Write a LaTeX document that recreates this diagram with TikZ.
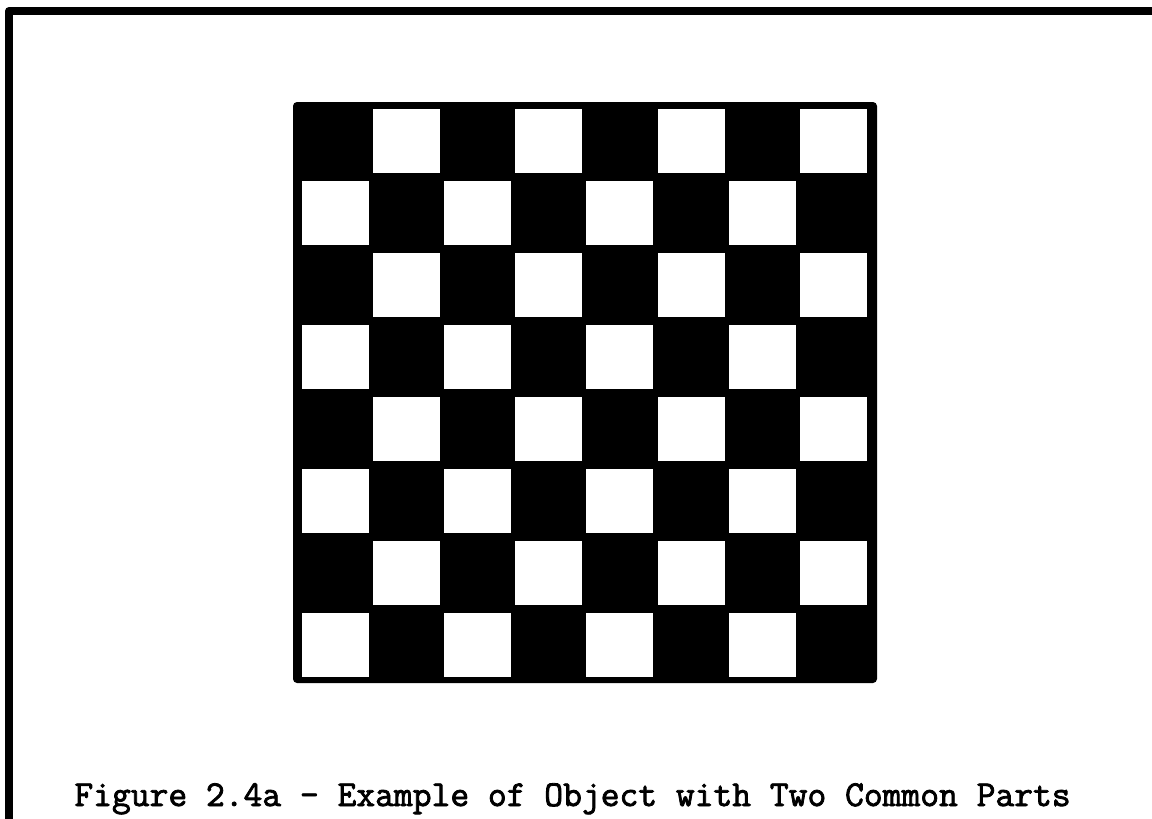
\documentclass[tikz,border=0pt]{standalone}
\usepackage{fontspec}
\newfontfamily\capfont{Latin Modern Mono}[AutoFakeBold=2.2]
\begin{document}
\begin{tikzpicture}[x=0.5pt,y=-0.5pt,
  frameline/.style={line width=4pt,line join=round,line cap=round},
  caption/.style={font=\fontsize{18.25pt}{22pt}\selectfont\capfont\bfseries,inner sep=0pt,anchor=base west}]
\useasboundingbox[fill=white] (0,0) rectangle (1152,819);
% frame
\draw[frameline] (9,819) -- (9,11) -- (1152,11);
% board
\fill[black,rounded corners=2pt] (293,102) rectangle (877,683);
\foreach \r in {0,...,7}{
  \foreach \c in {0,...,7}{
    \pgfmathtruncatemacro\parity{mod(\r+\c,2)}
    \ifnum\parity=1
      \fill[white] ({302+71.1*\c},{109+72*\r}) rectangle ++(67,64);
    \fi
  }
}
\node[caption] (cap) at (74,806) {Figure 2.4a - Example of Object with Two Common Parts};
\end{tikzpicture}
\end{document}
